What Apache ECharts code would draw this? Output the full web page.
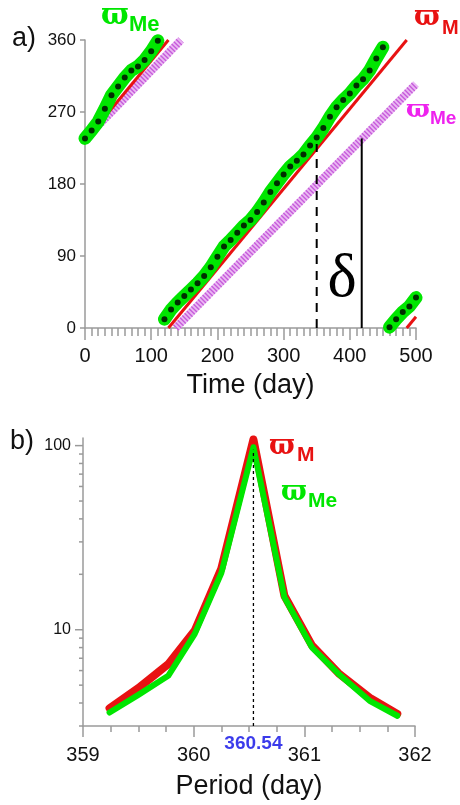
<!DOCTYPE html>
<html><head><meta charset="utf-8">
<script src="https://cdn.jsdelivr.net/npm/echarts@6/dist/echarts.min.js"></script>
<style>html,body{margin:0;padding:0;background:#fff}#c{width:460px;height:805px}</style>
</head><body><div id="c"></div><script>
// ---------- Panel a) data ----------
const timeTicks = [0, 100, 200, 300, 400, 500];
const angleTicks = [0, 90, 180, 270, 360];
const greenDays = [0,10,20,30,40,50,60,70,80,90,100,110,120,130,140,150,160,170,180,190,200,210,220,230,240,250,260,270,280,290,300,310,320,330,340,350,360,370,380,390,400,410,420,430,440,450,460,470,480,490,500];
const greenAngle = [237,247,258,274,291,302,313,322,327,335,346,359,11,23,32,40,48,56,65,76,89,102,110,119,128,135,145,157,170,181,192,202,209,217,228,238,250,264,276,285,293,303,311,322,337,351,1,11,20,27,38];
const redDays = [0, 126, 126, 486, 486, 500];
const redAngle = [234, 360, 0, 360, 0, 14];
const magentaDays = [0, 145, 137, 500];
const magentaAngle = [236, 360, 0, 305];
const deltaDashDay = 350, deltaDashTop = 230;
const deltaSolidDay = 418, deltaSolidTop = 237;

// ---------- Panel b) data ----------
const periods = [359.24,359.50,359.77,360.01,360.25,360.54,360.82,361.07,361.31,361.59,361.84];
const powerRed = [3.75,4.82,6.5,9.9,21.5,108,15.3,8.2,5.8,4.28,3.49];
const powerGreen = [3.55,4.43,5.62,9.5,20.3,98,15.0,8.0,5.75,4.11,3.41];
const periodTicks = [359, 360, 361, 362];
const peakPeriod = 360.54, peakLineTop = 95;
const logTickValues = [3,4,5,6,7,8,9,10,20,30,40,50,60,70,80,90,100];
const logMajor = [10, 100];

// split into segments at wrap-arounds (angle decreases)
function segments(xs, ys) {
  const segs = []; let cur = [];
  for (let i = 0; i < xs.length; i++) {
    if (i > 0 && ys[i] < ys[i-1]) { segs.push(cur); cur = []; }
    cur.push([xs[i], ys[i]]);
  }
  segs.push(cur);
  return segs;
}

const GRAY = '#9a9a9a';
const FONT = 'Liberation Sans, Arial, sans-serif';
const series = [];

// magenta hatched band
segments(magentaDays, magentaAngle).forEach(s => {
  series.push({type:'line', xAxisIndex:0, yAxisIndex:0, data:s, showSymbol:false, z:2,
    lineStyle:{color:'#ebb8f3', width:8}});
  series.push({type:'line', xAxisIndex:0, yAxisIndex:0, data:s, showSymbol:false, z:3,
    lineStyle:{color:'#c65ddb', width:8, type:[1.4,1.8]}});
});
// red line
segments(redDays, redAngle).forEach(s => {
  series.push({type:'line', xAxisIndex:0, yAxisIndex:0, data:s, showSymbol:false, z:4,
    lineStyle:{color:'#e81212', width:3}});
});
// green thick band
segments(greenDays, greenAngle).forEach(s => {
  series.push({type:'line', xAxisIndex:0, yAxisIndex:0, data:s, showSymbol:false, z:5, clip:false,
    lineStyle:{color:'#00e600', width:13, cap:'round', join:'round'}});
});
// black dots
series.push({type:'scatter', xAxisIndex:0, yAxisIndex:0, z:6, symbolSize:6,
  itemStyle:{color:'#000'}, data: greenDays.map((d,i)=>[d, greenAngle[i]])});
// delta vertical lines
series.push({type:'line', xAxisIndex:0, yAxisIndex:0, z:7, showSymbol:false,
  data:[[deltaDashDay,0],[deltaDashDay,deltaDashTop]], lineStyle:{color:'#000', width:2, type:[9,7]}});
series.push({type:'line', xAxisIndex:0, yAxisIndex:0, z:7, showSymbol:false,
  data:[[deltaSolidDay,0],[deltaSolidDay,deltaSolidTop]], lineStyle:{color:'#000', width:2}});

// panel b curves
series.push({type:'line', xAxisIndex:1, yAxisIndex:1, z:2, showSymbol:false, clip:false,
  data: periods.map((p,i)=>[p, powerRed[i]]), lineStyle:{color:'#e81212', width:8, join:'round', cap:'round'}});
series.push({type:'line', xAxisIndex:1, yAxisIndex:1, z:3, showSymbol:false, clip:false,
  data: periods.map((p,i)=>[p, powerGreen[i]]), lineStyle:{color:'#00e600', width:6, join:'round', cap:'round'}});
series.push({type:'line', xAxisIndex:1, yAxisIndex:1, z:4, showSymbol:false,
  data: [[peakPeriod, 3],[peakPeriod, peakLineTop]], lineStyle:{color:'#000', width:1.3, type:[3,3]}});
series.push({type:'scatter', xAxisIndex:1, yAxisIndex:1, z:5, symbolSize:0,
  data:[[peakPeriod, 3]],
  label:{show:true, position:'bottom', distance:8, formatter: String(peakPeriod),
    color:'#0a0ae6', fontWeight:'bold', fontSize:19, fontFamily:FONT}});
// log-axis ticks (major + minor)
series.push({type:'custom', xAxisIndex:1, yAxisIndex:1, z:1, clip:false,
  data: logTickValues.map(v => [periodTicks[0], v]),
  renderItem: function(params, api){
    const v = api.value(1);
    const p = api.coord([api.value(0), v]);
    const len = logMajor.indexOf(v) >= 0 ? 8 : 4;
    return {type:'line', shape:{x1:p[0]-len, y1:p[1], x2:p[0], y2:p[1]},
      style:{stroke:GRAY, lineWidth:1.5}};
  }});

function varpi(x, y, size, sub, subX, subY, subSize, color) {
  return [
    {type:'text', x:x, y:y, z:20, style:{text:'\u03D6', font: 'bold '+size+'px "DejaVu Serif"', fill:color, align:'left', verticalAlign:'middle'}},
    {type:'text', x:subX, y:subY, z:20, style:{text:sub, font:'bold '+subSize+'px '+FONT, fill:color, align:'left', verticalAlign:'middle'}}
  ];
}

const graphic = [].concat(
  [{type:'text', x:12, y:39, style:{text:'a)', font:'27px '+FONT, fill:'#111', verticalAlign:'middle'}},
   {type:'text', x:10, y:442, style:{text:'b)', font:'27px '+FONT, fill:'#111', verticalAlign:'middle'}},
   {type:'text', x:342, y:280, style:{text:'\u03B4', font:'62px "Liberation Serif", serif', fill:'#000', align:'center', verticalAlign:'middle'}}],
  varpi(101, 16, 29, 'Me', 129, 25, 22, '#00e600'),
  varpi(414, 18, 27, 'M', 442, 28.5, 20, '#e81212'),
  varpi(406, 110, 25, 'Me', 430, 118.5, 19, '#ee22ee'),
  varpi(269, 447, 27, 'M', 297, 455, 21, '#e81212'),
  varpi(281, 493, 27, 'Me', 308, 501, 21, '#00e600')
);

const option = {
  animation: false,
  backgroundColor: '#fff',
  grid: [
    {left:85, top:40, width:331, height:288},
    {left:83, top:438, width:332, height:288}
  ],
  xAxis: [
    {type:'value', gridIndex:0, min:timeTicks[0], max:timeTicks[timeTicks.length-1], interval:100,
     name:'Time (day)', nameLocation:'middle', nameGap:44,
     nameTextStyle:{fontSize:27, color:'#111', fontFamily:FONT},
     axisLine:{show:true, onZero:false, lineStyle:{color:GRAY, width:1.5}},
     axisTick:{show:true, length:12, lineStyle:{color:GRAY, width:1.5}},
     minorTick:{show:true, splitNumber:10, length:8, lineStyle:{color:GRAY, width:1.5}},
     splitLine:{show:false}, minorSplitLine:{show:false},
     axisLabel:{fontSize:20, color:'#111', margin:18, fontFamily:FONT}},
    {type:'value', gridIndex:1, min:periodTicks[0], max:periodTicks[periodTicks.length-1], interval:1,
     name:'Period (day)', nameLocation:'middle', nameGap:47,
     nameTextStyle:{fontSize:27, color:'#111', fontFamily:FONT},
     axisLine:{show:true, onZero:false, lineStyle:{color:GRAY, width:1.5}},
     axisTick:{show:true, length:11, lineStyle:{color:GRAY, width:1.5}},
     minorTick:{show:true, splitNumber:4, length:6, lineStyle:{color:GRAY, width:1.5}},
     splitLine:{show:false}, minorSplitLine:{show:false},
     axisLabel:{fontSize:20, color:'#111', margin:19, fontFamily:FONT}}
  ],
  yAxis: [
    {type:'value', gridIndex:0, min:angleTicks[0], max:angleTicks[angleTicks.length-1], interval:90,
     axisLine:{show:true, onZero:false, lineStyle:{color:GRAY, width:1.5}},
     axisTick:{show:true, length:5, lineStyle:{color:GRAY, width:1.5}},
     splitLine:{show:false},
     axisLabel:{fontSize:17, color:'#111', margin:9, fontFamily:FONT}},
    {type:'log', gridIndex:1, logBase:10, min:3, max:110,
     axisLine:{show:true, onZero:false, lineStyle:{color:GRAY, width:1.5}},
     axisTick:{show:false}, splitLine:{show:false}, minorTick:{show:false},
     axisLabel:{fontSize:16, color:'#111', margin:12, fontFamily:FONT,
       formatter: function(v){ for (const m of logMajor) { if (Math.abs(v-m) < 1e-6*m) return String(m); } return ''; }}}
  ],
  series: series,
  graphic: graphic
};
const chart = echarts.init(document.getElementById('c'), null, {renderer:'canvas'});
chart.setOption(option);
</script></body></html>
